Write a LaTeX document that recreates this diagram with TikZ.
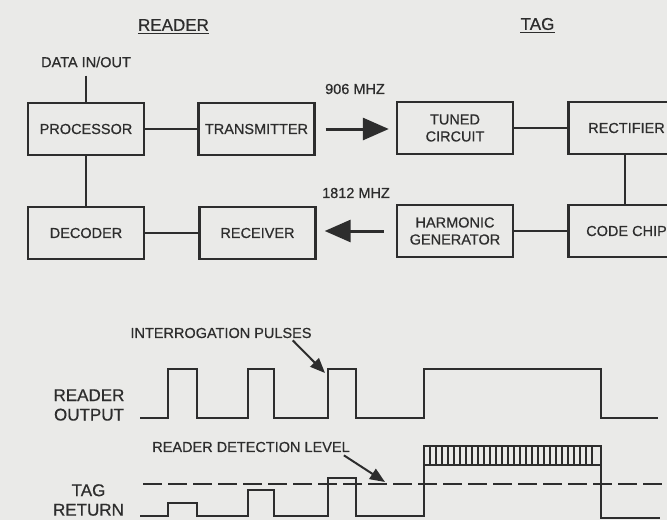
\documentclass[tikz,border=0pt]{standalone}
\usepackage{fontspec}
\setmainfont{Liberation Sans}[FakeBold=0.6]
\usepackage{tikz}
\usetikzlibrary{positioning,arrows.meta}
\definecolor{ink}{RGB}{45,45,45}
\definecolor{paper}{RGB}{234,234,232}
\tikzset{
  block/.style={draw=ink, line width=2.4pt, minimum width=116pt, minimum height=52pt, align=center, inner sep=2pt},
  link/.style={draw=ink, line width=2.4pt},
  bigarrow/.style={-{Triangle[length=26pt, width=22pt]}, draw=ink, line width=3pt},
  callarrow/.style={-{Triangle[length=15pt, width=12pt]}, draw=ink, line width=2pt},
  sigline/.style={draw=ink, line width=2.4pt},
  lvl/.style={draw=ink, line width=2.4pt, dash pattern=on 19pt off 6pt},
  hatch/.style={draw=ink, line width=1.1pt},
  relabel/.style={inner sep=0pt},
  title/.style={inner sep=0pt, font=\fontsize{17}{20}\selectfont},
  siglabel/.style={inner sep=0pt, align=center, font=\fontsize{17}{19.5}\selectfont}
}
\begin{document}
\begin{tikzpicture}[x=1pt, y=-1pt, every node/.style={font=\fontsize{14.5}{17}\selectfont, text=ink}]
      \clip (0,0) rectangle (667,520);
      \fill[paper] (0,0) rectangle (667,520);
      \node[title] (rdr) at (173.5,25) {READER};
      \node[title] (tag) at (537.5,24) {TAG};
      \draw[link, line width=1.6pt] ([yshift=-2.5pt]rdr.base west) -- ([yshift=-2.5pt]rdr.base east);
      \draw[link, line width=1.6pt] ([yshift=-2.5pt]tag.base west) -- ([yshift=-2.5pt]tag.base east);
      \node[relabel] (data) at (86,62) {DATA IN/OUT};
      \node[block] (proc) at (86,129) {PROCESSOR};
      \node[block] (tx) at (256.5,129) {TRANSMITTER};
      \node[block] (tuned) at (455,128) {TUNED\\CIRCUIT};
      \node[block] (rect) at (626.5,128) {RECTIFIER};
      \node[block] (dec) at (86,233) {DECODER};
      \node[block] (rx) at (257.5,233) {RECEIVER};
      \node[block] (harm) at (455,231) {HARMONIC\\GENERATOR};
      \node[block] (chip) at (626.5,231) {CODE CHIP};
      \node[relabel] (f1) at (355,89) {906 MHZ};
      \node[relabel] (f2) at (356,193) {1812 MHZ};
      \draw[link] ([yshift=-8pt]data.south) -- (proc.north);
      \draw[link] (proc) -- (tx);
      \draw[link] (proc) -- (dec);
      \draw[link] (dec) -- (rx);
      \draw[link] (tuned) -- (rect);
      \draw[link] ([xshift=-1.5pt]rect.south) -- ([xshift=-1.5pt]chip.north);
      \draw[link] (harm) -- (chip);
      \draw[bigarrow] ([xshift=10pt]tx.east) -- ([xshift=-7pt,yshift=-1pt]tuned.west);
      \draw[bigarrow] ([xshift=-12pt]harm.west) -- ([xshift=8pt,yshift=2pt]rx.east);
      \node[relabel] (ip) at (221,333) {INTERROGATION PULSES};
      \node[relabel] (det) at (251,447) {READER DETECTION LEVEL};
      \node[siglabel] (rout) at (89,405) {READER\\OUTPUT};
      \node[siglabel] (tret) at (88.5,500) {TAG\\RETURN};
      \coordinate (ipt) at (325,373);
      \coordinate (dett) at (385,482);
      \draw[callarrow] ([xshift=-19pt,yshift=-2pt]ip.south east) -- (ipt);
      \draw[callarrow] ([xshift=-6pt,yshift=-3pt]det.south east) -- (dett);
      \draw[sigline] (140,418) -| (168,369) -| (197,418) -| (248,369) -| (274,418)
        -| (328,369) -| (356,418) -| (424,369) -| (601,418) -- (658,418);
      \draw[lvl] (143,484) -- (667,484);
      \draw[sigline] (140,516) -| (168,503) -| (197,516) -| (248,490) -| (274,516)
        -| (328,478) -| (356,516) -| (424,446) -| (601,518) -- (660,518);
      \draw[sigline] (424,465) -- (601,465);
      \foreach \x in {430,436,...,596}
        \draw[hatch] (\x,446) -- (\x,465);
    \end{tikzpicture}
\end{document}
